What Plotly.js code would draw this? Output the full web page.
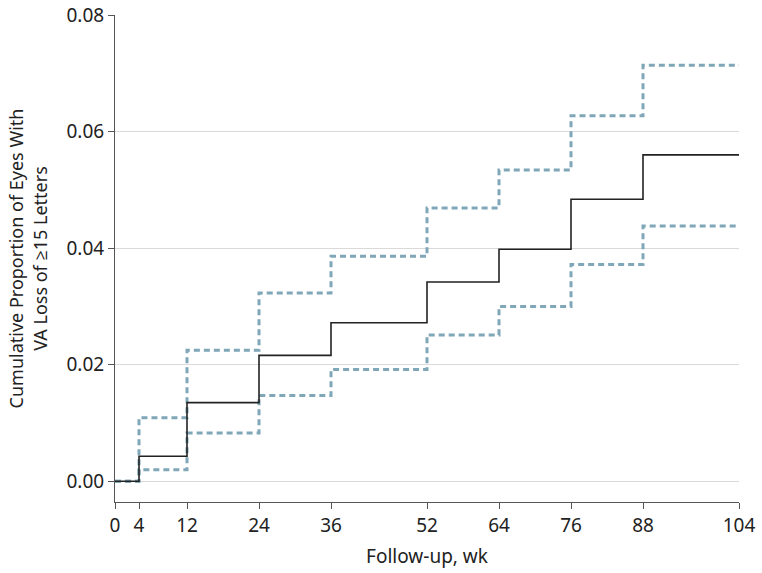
<!DOCTYPE html>
<html>
<head>
<meta charset="utf-8">
<script src="https://cdn.plot.ly/plotly-3.0.1.min.js"></script>
<style>html,body{margin:0;padding:0;background:#fff}#chart{width:762px;height:573px}</style>
</head>
<body>
<div id="chart"></div>
<script>
const weeks = [0, 4, 12, 24, 36, 52, 64, 76, 88, 104];
const estimate = [0, 0.0043, 0.0135, 0.0216, 0.0272, 0.0342, 0.0398, 0.0484, 0.0560, 0.0560];
const upperCI = [0, 0.0109, 0.0225, 0.0323, 0.0386, 0.0469, 0.0534, 0.0627, 0.0714, 0.0714];
const lowerCI = [0, 0.0020, 0.0083, 0.0147, 0.0192, 0.0251, 0.0300, 0.0372, 0.0438, 0.0438];
const yTicks = [0, 0.02, 0.04, 0.06, 0.08];

const ciStyle = {color: '#7fa7b7', width: 3, dash: '6px,4px', shape: 'hv'};
const traces = [
  {x: weeks, y: upperCI, mode: 'lines', line: ciStyle, hoverinfo: 'skip', showlegend: false},
  {x: weeks, y: lowerCI, mode: 'lines', line: ciStyle, hoverinfo: 'skip', showlegend: false},
  {x: weeks, y: estimate, mode: 'lines', line: {color: '#222222', width: 1.6, shape: 'hv'}, showlegend: false}
];

const fam = '"Noto Sans", "Open Sans", sans-serif';
const tickFont = {family: fam, size: 19, color: '#222'};
const titleFont = {family: fam, size: 18, color: '#222'};
const layout = {
  width: 762, height: 573,
  margin: {l: 115, r: 23, t: 15, b: 71},
  paper_bgcolor: '#fff', plot_bgcolor: '#fff',
  font: tickFont,
  showlegend: false,
  xaxis: {
    range: [0, 104], tickvals: weeks, ticktext: weeks.map(String),
    showgrid: false, zeroline: false,
    showline: true, linecolor: '#555', linewidth: 1,
    ticks: 'outside', ticklen: 6, tickcolor: '#555',
    tickfont: tickFont,
    title: {text: 'Follow-up, wk', font: {family: fam, size: 19, color: '#222'}, standoff: 12}
  },
  yaxis: {
    range: [-0.00355, 0.08], tickvals: yTicks, tickformat: '.2f',
    showgrid: true, gridcolor: '#d9d9d9', gridwidth: 1,
    zeroline: false,
    showline: true, linecolor: '#555', linewidth: 1,
    ticks: 'outside', ticklen: 6, tickcolor: '#555',
    tickfont: tickFont,
    title: {text: 'Cumulative Proportion of Eyes With<br>VA Loss of ≥15 Letters', font: titleFont, standoff: 14}
  }
};
Plotly.newPlot('chart', traces, layout, {displayModeBar: false, staticPlot: true});
</script>
</body>
</html>
